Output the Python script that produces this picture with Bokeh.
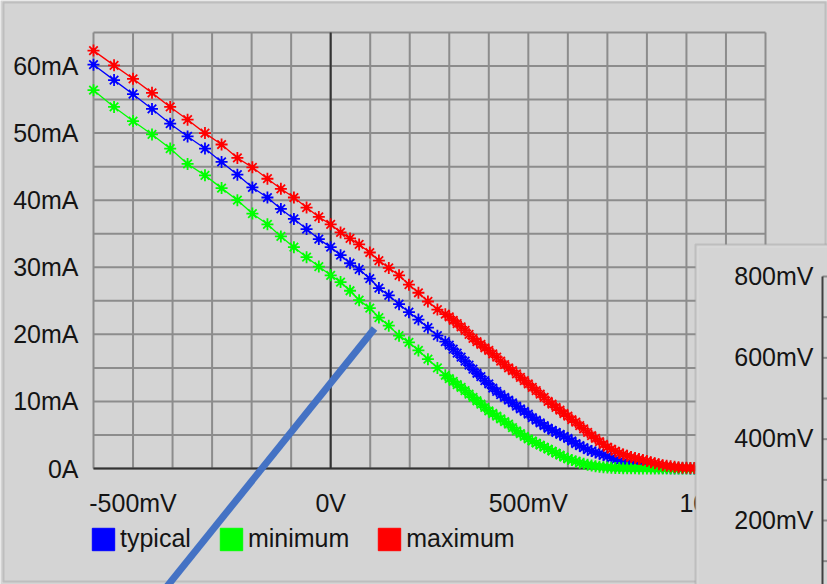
from bokeh.plotting import figure
from bokeh.models import (FixedTicker, Legend, LegendItem, BoxAnnotation,
                          Label, Arrow, Range1d)
from bokeh.embed import file_html
from bokeh.resources import INLINE

# ---------------- data ----------------
volt_mv = [-600, -548, -500, -452, -406, -362, -318, -276, -236, -198,
           -160, -126, -93, -61, -30, 0, 25, 49, 72, 99,
           122, 147, 173, 198, 222, 246, 270, 290,
           300, 310, 320, 330, 340, 350, 360, 370, 380, 390, 400,
           410, 420, 430, 440, 450, 460, 470, 480, 490, 500,
           510, 520, 530, 540, 550, 560, 570, 580, 590, 600,
           610, 620, 630, 640, 650, 660, 670, 680, 690, 700,
           710, 720, 730, 740, 750, 760, 770, 780, 790, 800,
           810, 820, 830, 840, 850, 860, 870, 880, 890, 900,
           910, 920, 950, 1000, 1050, 1100]

typical_ma = [60.2, 57.9, 55.8, 53.6, 51.4, 49.5, 47.7, 45.7, 43.8, 41.9,
              40.4, 38.7, 37.2, 35.7, 34.2, 33.0, 31.8, 30.6, 29.7, 28.3,
              26.9, 25.8, 24.5, 23.3, 22.2, 21.0, 19.8, 18.9,
              18.4, 17.8, 17.2, 16.6, 16.0, 15.4, 14.8, 14.2, 13.7, 13.1, 12.6,
              12.0, 11.5, 11.0, 10.6, 10.2, 9.8, 9.3, 8.9, 8.5, 8.1,
              7.6, 7.2, 6.8, 6.4, 6.0, 5.7, 5.4, 5.1, 4.8, 4.5,
              4.1, 3.7, 3.4, 3.1, 2.8, 2.6, 2.4, 2.2, 2.0, 1.8,
              1.55, 1.3, 1.1, 0.9, 0.75, 0.62, 0.5, 0.4, 0.32, 0.25,
              0.2, 0.15, 0.11, 0.08, 0.06, 0.05, 0.04, 0.03, 0.02, 0.02,
              0.01, 0.01, 0.01, 0.0, 0.0, 0.0]

minimum_ma = [56.4, 53.9, 51.8, 49.8, 47.7, 45.4, 43.7, 41.8, 40.0, 38.0,
              36.4, 34.6, 33.0, 31.5, 30.1, 28.8, 27.8, 26.5, 25.1, 23.9,
              22.5, 21.3, 19.8, 18.8, 17.6, 16.3, 15.0, 13.9,
              13.4, 13.0, 12.5, 12.1, 11.6, 11.1, 10.6, 10.1, 9.6, 9.1, 8.6,
              8.2, 7.8, 7.4, 7.0, 6.6, 6.1, 5.6, 5.2, 4.8, 4.4,
              4.1, 3.8, 3.5, 3.2, 2.9, 2.6, 2.3, 2.0, 1.7, 1.45,
              1.25, 1.05, 0.85, 0.7, 0.55, 0.45, 0.35, 0.27, 0.2, 0.15,
              0.11, 0.08, 0.06, 0.04, 0.03, 0.02, 0.02, 0.01, 0.01, 0.01,
              0.0, 0.0, 0.0, 0.0, 0.0, 0.0, 0.0, 0.0, 0.0, 0.0,
              0.0, 0.0, 0.0, 0.0, 0.0, 0.0]

maximum_ma = [62.3, 60.1, 58.1, 56.0, 53.9, 52.0, 50.0, 48.3, 46.3, 44.9,
              43.2, 41.7, 40.4, 38.9, 37.5, 36.4, 35.2, 34.3, 33.4, 32.2,
              31.0, 29.9, 28.8, 27.4, 26.2, 24.9, 23.7, 23.0,
              22.6, 22.1, 21.6, 21.1, 20.6, 20.0, 19.4, 18.9, 18.5, 18.0, 17.6,
              17.1, 16.6, 16.0, 15.5, 15.0, 14.6, 14.1, 13.6, 13.1, 12.6,
              12.1, 11.6, 11.1, 10.6, 10.0, 9.6, 9.1, 8.7, 8.2, 7.8,
              7.3, 6.9, 6.4, 5.9, 5.4, 4.9, 4.5, 4.0, 3.6, 3.2,
              2.9, 2.6, 2.3, 2.1, 1.9, 1.7, 1.55, 1.4, 1.25, 1.1,
              0.95, 0.8, 0.65, 0.5, 0.4, 0.32, 0.25, 0.18, 0.13, 0.1,
              0.08, 0.06, 0.04, 0.02, 0.01, 0.0]

series_names = ["typical", "minimum", "maximum"]

x_tick_values = [-500, 0, 500, 1000]
x_tick_labels = ["-500mV", "0V", "500mV", "1000mV"]
x_grid_values = [-600, -500, -400, -300, -200, -100, 0, 100, 200, 300, 400,
                 500, 600, 700, 800, 900, 1000, 1100]
y_tick_values = [0, 10, 20, 30, 40, 50, 60]
y_tick_labels = ["0A", "10mA", "20mA", "30mA", "40mA", "50mA", "60mA"]
y_grid_values = [0, 5, 10, 15, 20, 25, 30, 35, 40, 45, 50, 55, 60, 65]
x_limits = [-600, 1100]
y_limits = [0, 65]

inset_tick_values = [800, 600, 400, 200]
inset_tick_labels = ["800mV", "600mV", "400mV", "200mV"]
inset_grid_values = [800, 700, 600, 500, 400, 300, 200, 100]

# ---------------- layout (pixels) & styling ----------------
W, H = 827, 584
PX_L, PX_R, PX_T, PX_B = 93, 765, 32, 468          # main plot area
INSET_PX_800, INSET_PX_200 = 276, 520              # inset axis positions
INSET_AXIS_PX = 822

BG = "#d4d4d4"
GRID = "#8c8c8c"
DARK = "#333333"
TEXT = "#141414"
FONT = "Liberation Sans"
FSIZE = "25px"
colors = {"typical": "#0000ff", "minimum": "#00ff00", "maximum": "#ff0000"}

sx = (x_limits[1] - x_limits[0]) / (PX_R - PX_L)
sy = (y_limits[1] - y_limits[0]) / (PX_B - PX_T)
xr = Range1d(x_limits[0] - PX_L * sx, x_limits[1] + (W - PX_R) * sx)
yr = Range1d(y_limits[0] - (H - PX_B) * sy, y_limits[1] + PX_T * sy)
k = 600.0 / (INSET_PX_200 - INSET_PX_800)
inset_range = Range1d(200 - (H - INSET_PX_200) * k, 800 + INSET_PX_800 * k)

p = figure(width=W, height=H, x_range=xr, y_range=yr,
           output_backend="svg", toolbar_location=None,
           min_border=0, min_border_left=0, min_border_right=0,
           min_border_top=0, min_border_bottom=0,
           background_fill_color=BG, border_fill_color=BG, outline_line_color=None)
p.extra_y_ranges = {"inset": inset_range}

# window frame of the screenshot
p.add_layout(BoxAnnotation(left=3, right=825, top=H - 2, bottom=H - 581,
                           left_units="screen", right_units="screen",
                           top_units="screen", bottom_units="screen",
                           fill_alpha=0, line_color="#8c8c8c", line_width=2,
                           level="underlay"))

# grid of the main chart
nx, ny = len(x_grid_values), len(y_grid_values)
p.segment(x0=x_grid_values, x1=x_grid_values, y0=[y_limits[0]] * nx, y1=[y_limits[1]] * nx,
          line_color=GRID, line_width=2)
p.segment(x0=[x_limits[0]] * ny, x1=[x_limits[1]] * ny, y0=y_grid_values, y1=y_grid_values,
          line_color=GRID, line_width=2)
# zero lines
p.segment(x0=[0, x_limits[0]], x1=[0, x_limits[1]], y0=[y_limits[0], 0], y1=[y_limits[1], 0],
          line_color=DARK, line_width=2)

# axes (labels only) at fixed positions
p.xaxis.fixed_location = 0
p.xaxis.bounds = (x_limits[0], x_limits[1])
p.xaxis.ticker = FixedTicker(ticks=x_tick_values, minor_ticks=[])
p.xaxis.major_label_overrides = dict(zip(x_tick_values, x_tick_labels))
p.xaxis.axis_line_color = None
p.xaxis.major_tick_line_color = None
p.xaxis.minor_tick_line_color = None
p.xaxis.major_label_standoff = 14
p.xaxis.major_label_text_font_size = FSIZE
p.xaxis.major_label_text_font = FONT
p.xaxis.major_label_text_color = TEXT

p.yaxis.fixed_location = x_limits[0]
p.yaxis.bounds = (y_limits[0], y_limits[1])
p.yaxis.ticker = FixedTicker(ticks=y_tick_values, minor_ticks=[])
p.yaxis.major_label_overrides = dict(zip(y_tick_values, y_tick_labels))
p.yaxis.axis_line_color = None
p.yaxis.major_tick_line_color = None
p.yaxis.minor_tick_line_color = None
p.yaxis.major_label_standoff = 9
p.yaxis.major_label_text_font_size = FSIZE
p.yaxis.major_label_text_font = FONT
p.yaxis.major_label_text_color = TEXT

p.xgrid.visible = False
p.ygrid.visible = False

# series
data = {"typical": typical_ma, "minimum": minimum_ma, "maximum": maximum_ma}
legend_items = []
for name in series_names:
    c = colors[name]
    p.line(volt_mv, data[name], line_color=c, line_width=1.3)
    p.scatter(volt_mv, data[name], marker="asterisk", size=12, line_color=c, line_width=1.8)
    p.scatter(volt_mv, data[name], marker="circle", size=4, fill_color=c, line_color=c)
    # hidden bar renderer of the same series: supplies the square legend swatch
    swatch = p.vbar(x=volt_mv, top=data[name], width=1, fill_color=c, line_color=c,
                    visible=False)
    legend_items.append(LegendItem(label=name, renderers=[swatch]))

legend = Legend(items=legend_items, orientation="horizontal", location=(89, 31),
                glyph_width=28, glyph_height=28, label_standoff=3, spacing=26,
                padding=0, margin=0, border_line_color=None, background_fill_alpha=0,
                inactive_fill_alpha=0,
                label_text_font_size=FSIZE, label_text_font=FONT, label_text_color=TEXT)
p.add_layout(legend)

# annotation stroke drawn over the screenshot
p.add_layout(Arrow(end=None, x_start=374, y_start=H - 328, x_end=160, y_end=-10,
                   start_units="screen", end_units="screen",
                   line_color="#4472c4", line_width=7))

# overlapping second panel at the lower right
p.add_layout(BoxAnnotation(left=695, right=W + 50, top=H - 244, bottom=-50,
                           left_units="screen", right_units="screen",
                           top_units="screen", bottom_units="screen",
                           fill_color=BG, fill_alpha=1.0, line_color="#8a8a8a",
                           line_width=2, level="annotation"))
p.add_layout(BoxAnnotation(left=697.5, right=W + 50, top=H - 246.5, bottom=-50,
                           left_units="screen", right_units="screen",
                           top_units="screen", bottom_units="screen",
                           fill_alpha=0, line_color="#ececec", line_width=1,
                           level="annotation"))
inset_x = xr.start + INSET_AXIS_PX * sx
ni = len(inset_grid_values)
p.segment(x0=[inset_x] * ni, x1=[xr.end + 10] * ni, y0=inset_grid_values, y1=inset_grid_values,
          y_range_name="inset", line_color=GRID, line_width=2, level="overlay")
p.segment(x0=[inset_x], x1=[inset_x], y0=[inset_grid_values[0]], y1=[inset_range.start - 10],
          y_range_name="inset", line_color="#404040", line_width=2, level="overlay")
for v, t in zip(inset_tick_values, inset_tick_labels):
    p.add_layout(Label(x=813, x_units="screen", y=v, y_offset=1, y_range_name="inset", text=t,
                       text_align="right", text_baseline="middle",
                       text_font_size=FSIZE, text_font=FONT, text_color=TEXT,
                       level="overlay"))

open("out.html", "w").write(file_html(p, INLINE))
